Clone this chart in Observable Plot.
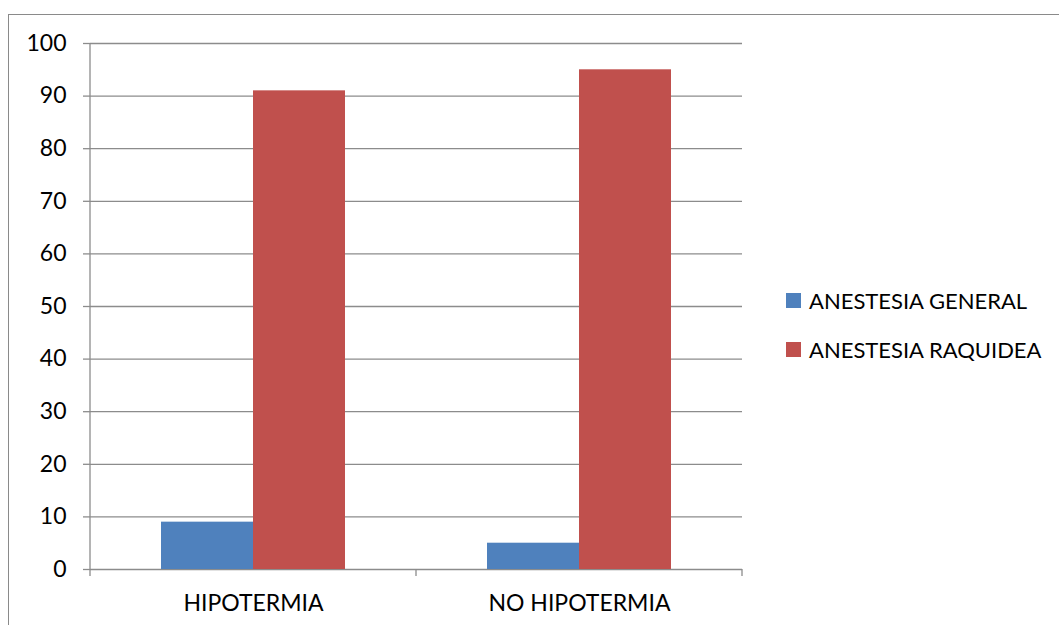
<!DOCTYPE html>
<html>
<head>
<meta charset="utf-8">
<script src="https://cdn.jsdelivr.net/npm/d3@7"></script>
<script src="https://cdn.jsdelivr.net/npm/@observablehq/plot@0.6"></script>
<style>
  body { margin: 0; background: #fff; }
  #wrap { position: relative; width: 1059px; height: 625px; overflow: hidden; font-family: Lato, "Open Sans", sans-serif; }
  #border { position: absolute; left: 8px; top: 14px; width: 1200px; height: 800px; border: 1.5px solid #8a8a8a; box-sizing: border-box; }
  #chart { position: absolute; left: 0; top: 0; }
  #legend { position: absolute; left: 786px; top: 286px; }
  .item { display: flex; align-items: center; height: 28px; margin-bottom: 21px; font-size: 22px; color: #000; white-space: nowrap; }
  .swatch { width: 15px; height: 15px; margin-right: 8px; flex: none; }
</style>
</head>
<body>
<div id="wrap">
  <div id="border"></div>
  <div id="chart"></div>
  <div id="legend"></div>
</div>
<script>
// Categories on the horizontal axis
const groups = ["HIPOTERMIA", "NO HIPOTERMIA"];
// Series (one bar per series inside each category)
const series = ["ANESTESIA GENERAL", "ANESTESIA RAQUIDEA"];
// Values per series, in the order of `groups`
const general = [9, 5];
const raquidea = [91, 95];
const seriesColors = ["#4F81BD", "#C0504D"];
// Vertical axis ticks
const yTicks = [0, 10, 20, 30, 40, 50, 60, 70, 80, 90, 100];

const gridColor = "#8c8c8c";

const rows = [];
groups.forEach((g, i) => {
  rows.push({group: g, series: series[0], value: general[i]});
  rows.push({group: g, series: series[1], value: raquidea[i]});
});

const chart = Plot.plot({
  width: 1059,
  height: 625,
  marginTop: 43,
  marginBottom: 56,
  marginLeft: 90,
  marginRight: 317,
  style: {fontFamily: "Lato, 'Open Sans', sans-serif", background: "transparent"},
  fx: {domain: groups, padding: 0, label: null},
  x: {domain: series, paddingInner: 0, paddingOuter: 0.753, axis: null},
  y: {domain: [0, 100], axis: null},
  color: {domain: series, range: seriesColors},
  marks: [
    Plot.gridY(yTicks, {stroke: gridColor, strokeOpacity: 1, strokeWidth: 1.3}),
    Plot.axisY(yTicks, {tickSize: 7, tickPadding: 17, fontSize: 23, stroke: gridColor, strokeWidth: 1.3, fill: "#000", label: null}),
    Plot.barY(rows, {fx: "group", x: "series", y: "value", fill: "series"}),
    Plot.axisFx({anchor: "bottom", tickSize: 0, tickPadding: 25, fontSize: 23, fill: "#000", label: null})
  ]
});

// Vertical axis line and category boundary ticks, placed from the scales
const fx = chart.scale("fx");
const y = chart.scale("y");
const edges = groups.map(g => fx.apply(g));
edges.push(fx.apply(groups[groups.length - 1]) + fx.bandwidth);
const g = d3.select(chart).append("g").attr("stroke", gridColor).attr("stroke-width", 1.3);
g.append("line")
  .attr("x1", edges[0]).attr("x2", edges[0])
  .attr("y1", y.apply(100)).attr("y2", y.apply(0) + 7);
edges.slice(1).forEach(x => {
  g.append("line").attr("x1", x).attr("x2", x)
    .attr("y1", y.apply(0)).attr("y2", y.apply(0) + 7);
});

document.getElementById("chart").append(chart);

// Legend to the right of the plot area
const legend = d3.select("#legend");
series.forEach((s, i) => {
  const item = legend.append("div").attr("class", "item");
  item.append("div").attr("class", "swatch").style("background", seriesColors[i]);
  item.append("span").text(s);
});
</script>
</body>
</html>
